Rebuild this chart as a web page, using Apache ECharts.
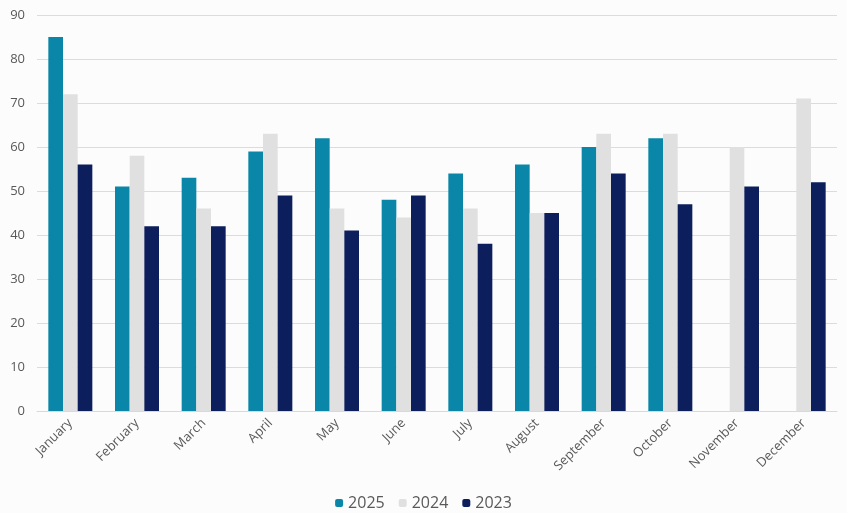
<!DOCTYPE html>
<html>
<head>
<meta charset="utf-8">
<script src="https://cdn.jsdelivr.net/npm/echarts@6/dist/echarts.min.js"></script>
<style>
html,body{margin:0;padding:0;background:#fcfcfc;}
#c{width:847px;height:513px;}
</style>
</head>
<body>
<div id="c"></div>
<script>
var categories = ["January","February","March","April","May","June","July","August","September","October","November","December"];
var s2025 = [85,51,53,59,62,48,54,56,60,62,null,null];
var s2024 = [72,58,46,63,46,44,46,45,63,63,60,71];
var s2023 = [56,42,42,49,41,49,38,45,54,47,51,52];
var yTicks = {min:0, max:90, interval:10};

var font = "Open Sans";
var chart = echarts.init(document.getElementById('c'));
chart.setOption({
  backgroundColor:'#fcfcfc',
  animation:false,
  grid:{left:37,right:10,top:15,bottom:102,containLabel:false},
  legend:{
    bottom:-3, left:'center',
    itemWidth:8, itemHeight:8, itemGap:14,
    textStyle:{fontFamily:font,fontSize:16,color:'#595959'},
    data:['2025','2024','2023']
  },
  xAxis:{
    type:'category', data:categories,
    axisLine:{lineStyle:{color:'#d9d9d9'}},
    axisTick:{show:false},
    axisLabel:{rotate:45,fontFamily:font,fontSize:13,color:'#595959',interval:0,margin:10}
  },
  yAxis:{
    type:'value', min:yTicks.min, max:yTicks.max, interval:yTicks.interval,
    axisLine:{show:false}, axisTick:{show:false},
    splitLine:{lineStyle:{color:'#dcdcdc'}},
    axisLabel:{fontFamily:font,fontSize:13,color:'#595959',margin:12}
  },
  series:[
    {name:'2025',type:'bar',data:s2025,barGap:'0%',barCategoryGap:'34%',itemStyle:{color:'#0a87a8'}},
    {name:'2024',type:'bar',data:s2024,barGap:'0%',barCategoryGap:'34%',itemStyle:{color:'#e0e0e0'}},
    {name:'2023',type:'bar',data:s2023,barGap:'0%',barCategoryGap:'34%',itemStyle:{color:'#0c1f5c'}}
  ]
});
</script>
</body>
</html>
